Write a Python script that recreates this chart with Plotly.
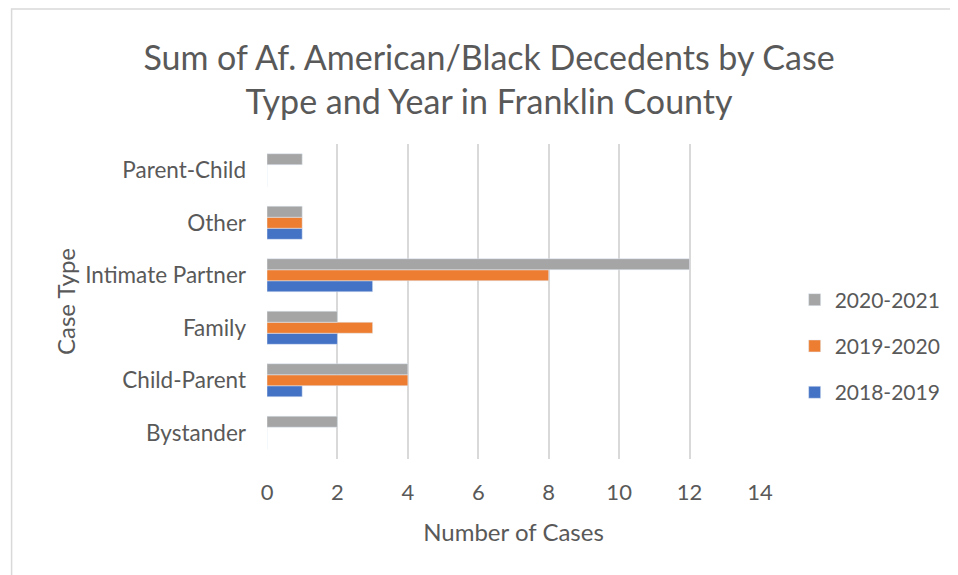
import plotly.graph_objects as go

case_types = ["Bystander", "Child-Parent", "Family", "Intimate Partner", "Other", "Parent-Child"]
cases_2018_2019 = [0, 1, 2, 3, 1, 0]
cases_2019_2020 = [0, 4, 3, 8, 1, 0]
cases_2020_2021 = [2, 4, 2, 12, 1, 1]
x_ticks = [0, 2, 4, 6, 8, 10, 12, 14]

font_family = "Lato, 'Open Sans', sans-serif"
text_color = "#595959"
grid_color = "#D9D9D9"

# page has an 8px body margin, so work in figure coords = page coords - 8
off = 8
W, H = 958 - off, 575 - off
plot_l, plot_r, plot_t, plot_b = 267 - off, 765 - off, 144 - off, 459 - off
pw, ph = plot_r - plot_l, plot_b - plot_t

fig = go.Figure()
fig.add_trace(go.Bar(y=case_types, x=cases_2018_2019, name="2018-2019", orientation="h",
                     marker=dict(color="#4472C4"), legendgroup="c", legendrank=3))
fig.add_trace(go.Bar(y=case_types, x=cases_2019_2020, name="2019-2020", orientation="h",
                     marker=dict(color="#ED7D31"), legendgroup="b", legendrank=2))
fig.add_trace(go.Bar(y=case_types, x=cases_2020_2021, name="2020-2021", orientation="h",
                     marker=dict(color="#A5A5A5"), legendgroup="a", legendrank=1))

# chart border (left and top edges show in the picture)
fig.add_shape(type="rect", xref="paper", yref="paper",
              x0=(1 - plot_l) / pw, x1=(1100 - plot_l) / pw,
              y0=(plot_b - 700) / ph, y1=(plot_b - 1) / ph,
              line=dict(color=grid_color, width=1.5), layer="below")

fig.update_layout(
    width=W, height=H,
    paper_bgcolor="white", plot_bgcolor="white",
    margin=dict(l=plot_l, r=W - plot_r, t=plot_t, b=H - plot_b),
    barmode="group", bargap=0.37, bargroupgap=0,
    font=dict(family=font_family, color=text_color, size=21),
    title=dict(text="Sum of Af. American/Black Decedents by Case<br>Type and Year in Franklin County",
               x=(489 - off) / W, xanchor="center", y=1 - (70 - off) / H, yanchor="middle",
               font=dict(size=34, color=text_color)),
    xaxis=dict(range=[0, 14], tickvals=x_ticks, showgrid=True, gridcolor=grid_color, gridwidth=1.5,
               zeroline=False, showline=False, ticks="", ticklabelstandoff=18,
               tickfont=dict(size=22),
               title=dict(text="Number of Cases", font=dict(size=24), standoff=20)),
    yaxis=dict(showgrid=False, zeroline=False, showline=False, ticks="", ticklabelstandoff=20,
               tickfont=dict(size=22.5),
               title=dict(text="Case Type", font=dict(size=24), standoff=2)),
    legend=dict(x=(800 - off - plot_l) / pw, xanchor="left",
                y=(plot_b - (346 - off)) / ph, yanchor="middle",
                traceorder="grouped", itemwidth=30, tracegroupgap=16,
                font=dict(size=21, color=text_color)),
)

fig.write_html("out.html")
